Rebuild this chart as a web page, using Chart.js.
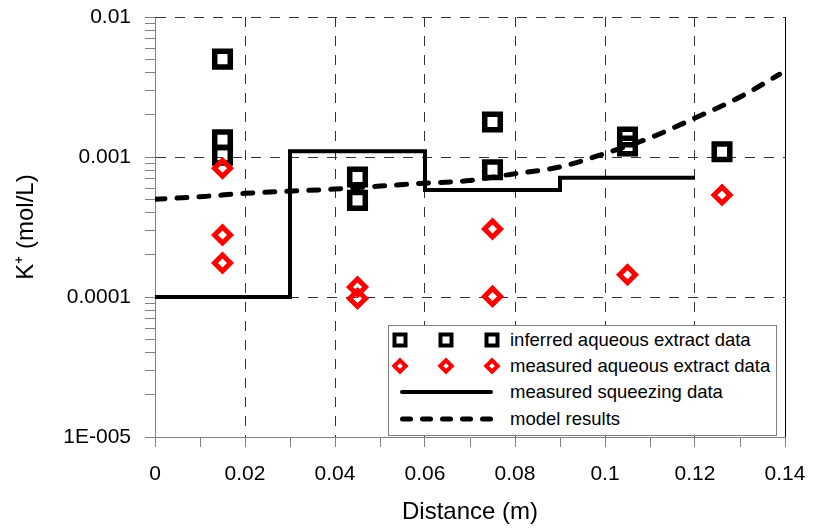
<!DOCTYPE html>
<html>
<head>
<meta charset="utf-8">
<script src="https://cdn.jsdelivr.net/npm/chart.js@4.4.1/dist/chart.umd.min.js"></script>
<style>
html,body{margin:0;padding:0;background:#fff;}
#wrap{position:relative;width:813px;height:529px;}
#legend{position:absolute;left:388px;top:325px;width:389px;height:111px;box-sizing:border-box;border:1px solid #808080;background:#fff;font-family:"Liberation Sans",Arial,sans-serif;font-size:18.5px;color:#000;}
#legend svg{position:absolute;left:0;top:0;}
.row{position:absolute;left:121px;height:24px;line-height:24px;white-space:nowrap;}
</style>
</head>
<body>
<div id="wrap">
<canvas id="c" width="813" height="529"></canvas>
<div id="legend">
<svg width="387" height="109" viewBox="0 0 387 109">
  <g fill="none" stroke="#000" stroke-width="4">
    <rect x="5.5" y="8.5" width="11" height="11"/>
    <rect x="51.5" y="8.5" width="11" height="11"/>
    <rect x="97.5" y="8.5" width="11" height="11"/>
  </g>
  <g fill="none" stroke="#ff0000" stroke-width="4">
    <polygon points="5.3,40 11,34.3 16.7,40 11,45.7"/>
    <polygon points="51.3,40 57,34.3 62.7,40 57,45.7"/>
    <polygon points="97.3,40 103,34.3 108.7,40 103,45.7"/>
  </g>
  <line x1="13" y1="66" x2="102" y2="66" stroke="#000" stroke-width="4" stroke-linecap="round"/>
  <line x1="13.5" y1="93" x2="102" y2="93" stroke="#000" stroke-width="5" stroke-linecap="round" stroke-dasharray="8 12"/>
</svg>
<div class="row" style="top:2px">inferred aqueous extract data</div>
<div class="row" style="top:28px">measured aqueous extract data</div>
<div class="row" style="top:54px">measured squeezing data</div>
<div class="row" style="top:81px">model results</div>
</div>
</div>
<script>
// ---- data ----
const squareX = [0.015, 0.015, 0.015, 0.045, 0.045, 0.075, 0.075, 0.105, 0.105, 0.126];
const squareY = [0.0050, 0.00133, 0.00103, 0.00072, 0.00049, 0.00178, 0.00081, 0.00139, 0.00120, 0.00109];

const diamondX = [0.015, 0.015, 0.015, 0.045, 0.045, 0.075, 0.075, 0.105, 0.126];
const diamondY = [0.00083, 0.000277, 0.000175, 0.000118, 0.0000975, 0.000306, 0.000101, 0.000144, 0.000535];

const squeezeX = [0, 0.03, 0.03, 0.06, 0.06, 0.09, 0.09, 0.12];
const squeezeY = [0.0001, 0.0001, 0.0011, 0.0011, 0.00058, 0.00058, 0.00071, 0.00071];

const modelX = [0, 0.01, 0.02, 0.03, 0.04, 0.05, 0.06, 0.07, 0.08, 0.09, 0.10, 0.11, 0.12, 0.13, 0.1388];
const modelY = [0.00050, 0.00052, 0.00055, 0.00057, 0.00059, 0.00062, 0.00065, 0.00068, 0.00076, 0.00085, 0.00106, 0.00137, 0.0019, 0.00268, 0.0039];

// ---- ticks ----
const xTickValues = [0, 0.01, 0.02, 0.03, 0.04, 0.05, 0.06, 0.07, 0.08, 0.09, 0.10, 0.11, 0.12, 0.13, 0.14];
const xLabelValues = [0, 0.02, 0.04, 0.06, 0.08, 0.10, 0.12, 0.14];
const xLabels = ['0', '0.02', '0.04', '0.06', '0.08', '0.1', '0.12', '0.14'];
const xGridValues = [0.02, 0.04, 0.06, 0.08, 0.10, 0.12];

const yDecades = [1e-5, 1e-4, 1e-3, 1e-2];
const yLabels = ['1E-005', '0.0001', '0.001', '0.01'];
const yGridValues = [1e-4, 1e-3, 1e-2];
const yMinorMultipliers = [1, 2, 3, 4, 5, 6, 7, 8, 9];

const FONT = '"Liberation Sans", Arial, sans-serif';
const near = (a, b) => Math.abs(a - b) <= Math.abs(b) * 1e-6 + 1e-12;
const pts = (xs, ys) => xs.map((x, i) => ({x: x, y: ys[i]}));

const yTickValues = [];
for (let d = 0; d < yDecades.length - 1; d++) {
  yMinorMultipliers.forEach(m => yTickValues.push(m * yDecades[d]));
}
yTickValues.push(yDecades[yDecades.length - 1]);

const frame = {
  id: 'frame',
  beforeDatasetsDraw(chart) {
    const {ctx, chartArea: a} = chart;
    ctx.save();
    ctx.strokeStyle = '#000';
    ctx.lineWidth = 1;
    ctx.beginPath();
    const x = Math.round(a.right) + 0.5;
    ctx.moveTo(x, a.top);
    ctx.lineTo(x, a.bottom);
    ctx.stroke();
    ctx.restore();
  }
};

new Chart(document.getElementById('c'), {
  type: 'scatter',
  data: {
    datasets: [
      {
        label: 'measured aqueous extract data',
        data: pts(diamondX, diamondY),
        showLine: false,
        pointStyle: 'rectRot',
        pointRadius: 8,
        pointHoverRadius: 8,
        pointBorderWidth: 5,
        pointBorderColor: '#ff0000',
        pointBackgroundColor: 'rgba(0,0,0,0)',
        order: 0
      },
      {
        label: 'inferred aqueous extract data',
        data: pts(squareX, squareY),
        showLine: false,
        pointStyle: 'rect',
        pointRadius: 11,
        pointHoverRadius: 11,
        pointBorderWidth: 5.5,
        pointBorderColor: '#000',
        pointBackgroundColor: 'rgba(0,0,0,0)',
        order: 1
      },
      {
        label: 'measured squeezing data',
        data: pts(squeezeX, squeezeY),
        showLine: true,
        pointRadius: 0,
        pointHoverRadius: 0,
        borderColor: '#000',
        borderWidth: 4,
        borderJoinStyle: 'miter',
        fill: false,
        order: 2
      },
      {
        label: 'model results',
        data: pts(modelX, modelY),
        showLine: true,
        pointRadius: 0,
        pointHoverRadius: 0,
        borderColor: '#000',
        borderWidth: 5,
        borderDash: [10, 12],
        borderCapStyle: 'round',
        cubicInterpolationMode: 'monotone',
        fill: false,
        order: 3
      }
    ]
  },
  options: {
    responsive: false,
    animation: false,
    devicePixelRatio: 1,
    events: [],
    layout: {padding: {left: 0, top: 17, right: 28, bottom: 0}},
    plugins: {legend: {display: false}, tooltip: {enabled: false}},
    scales: {
      x: {
        type: 'linear',
        min: 0,
        max: 0.14,
        afterBuildTicks: s => { s.ticks = xTickValues.map(v => ({value: v})); },
        afterFit: s => { s.height = 92; s.paddingLeft = 0; s.paddingRight = 0; },
        ticks: {
          autoSkip: false,
          maxRotation: 0,
          padding: 15,
          color: '#000',
          font: {family: FONT, size: 21},
          callback: v => {
            const i = xLabelValues.findIndex(t => Math.abs(t - v) < 1e-9);
            return i >= 0 ? xLabels[i] : '';
          }
        },
        grid: {
          color: c => (c.tick && xGridValues.some(t => Math.abs(t - c.tick.value) < 1e-9)) ? '#333' : 'rgba(0,0,0,0)',
          lineWidth: 1,
          drawTicks: true,
          tickLength: 10,
          tickColor: '#808080',
          tickWidth: 1
        },
        border: {display: true, color: '#808080', width: 1, dash: [10, 9]},
        title: {display: true, text: 'Distance (m)', color: '#000', font: {family: FONT, size: 24}, padding: {top: 0, bottom: 2}}
      },
      y: {
        type: 'logarithmic',
        min: 1e-5,
        max: 1e-2,
        afterBuildTicks: s => { s.ticks = yTickValues.map(v => ({value: v, major: yDecades.some(d => near(v, d))})); },
        afterFit: s => { s.width = 155; s.paddingTop = 0; s.paddingBottom = 0; },
        ticks: {
          autoSkip: false,
          padding: 14,
          color: '#000',
          font: {family: FONT, size: 21},
          callback: v => {
            const i = yDecades.findIndex(d => near(v, d));
            return i >= 0 ? yLabels[i] : '';
          }
        },
        grid: {
          color: c => (c.tick && yGridValues.some(d => near(c.tick.value, d))) ? '#333' : 'rgba(0,0,0,0)',
          lineWidth: 1,
          drawTicks: true,
          tickLength: 10,
          tickColor: '#808080',
          tickWidth: 1
        },
        border: {display: true, color: '#808080', width: 1, dash: [10, 9]},
        title: {display: true, text: 'K\u207A (mol/L)', color: '#000', font: {family: FONT, size: 24}, padding: {top: 12, bottom: 0}}
      }
    }
  },
  plugins: [frame]
});
</script>
</body>
</html>
